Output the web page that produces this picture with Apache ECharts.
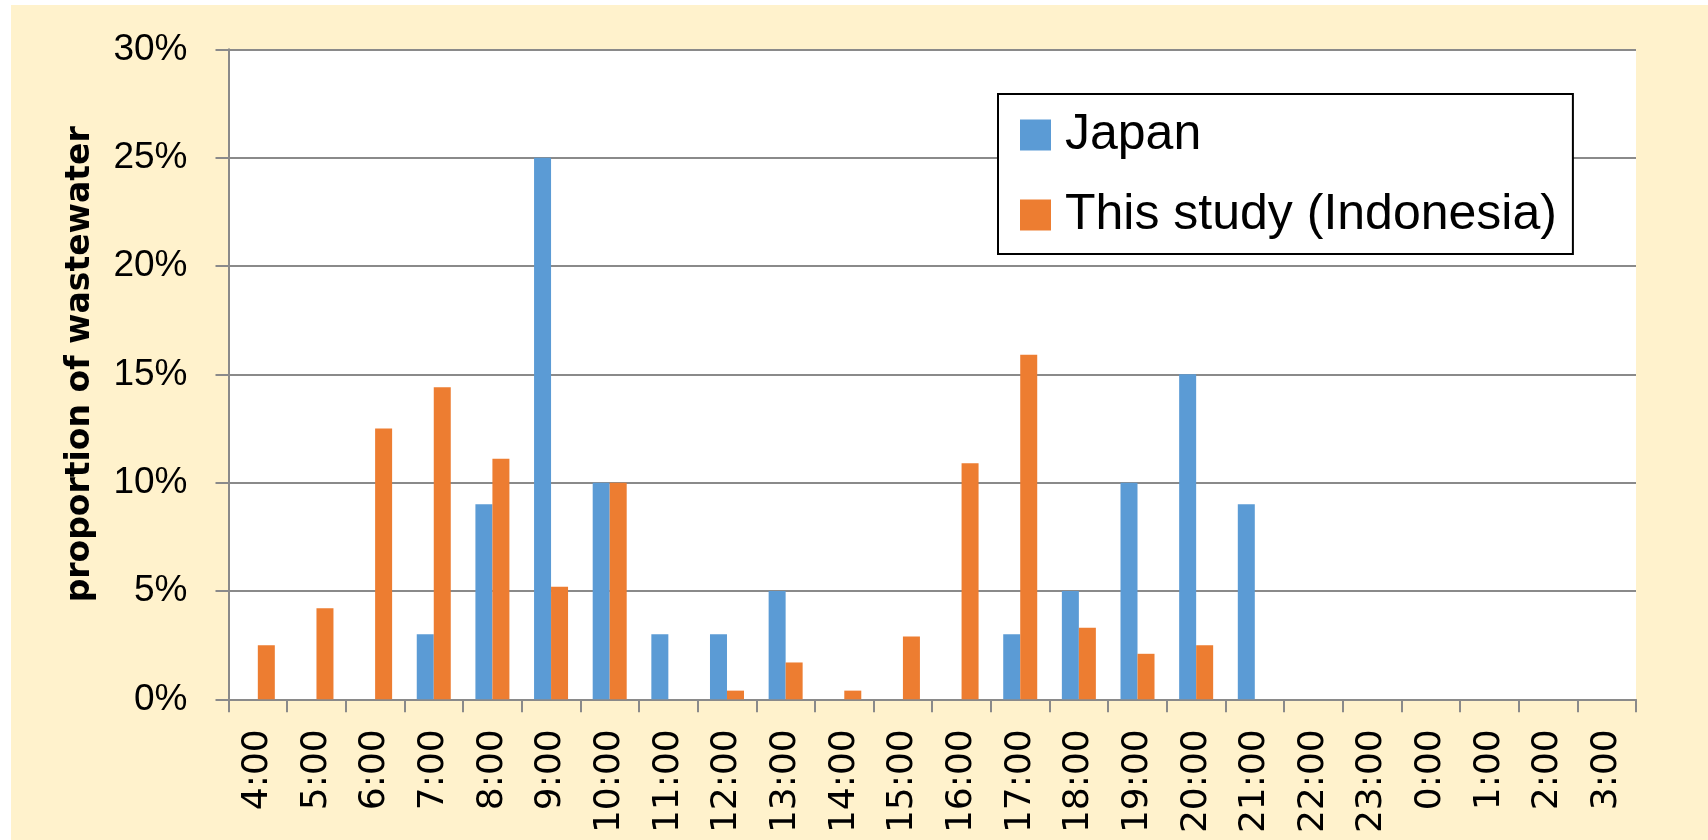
<!DOCTYPE html>
<html>
<head>
<meta charset="utf-8">
<script src="https://cdn.jsdelivr.net/npm/echarts@6/dist/echarts.min.js"></script>
<style>
  html, body { margin: 0; padding: 0; background: #ffffff; }
  #chart { width: 1708px; height: 840px; }
</style>
</head>
<body>
<div id="chart"></div>
<script>
const hours = ['4:00','5:00','6:00','7:00','8:00','9:00','10:00','11:00','12:00','13:00','14:00','15:00','16:00','17:00','18:00','19:00','20:00','21:00','22:00','23:00','0:00','1:00','2:00','3:00'];
const japan = [0,0,0,3,9,25,10,3,3,5,0,0,0,3,5,10,15,9,0,0,0,0,0,0];
const indonesia = [2.5,4.2,12.5,14.4,11.1,5.2,10,0,0.4,1.7,0.4,2.9,10.9,15.9,3.3,2.1,2.5,0,0,0,0,0,0,0];
const yTicks = [0,5,10,15,20,25,30];
const seriesNames = ['Japan','This study (Indonesia)'];

const chart = echarts.init(document.getElementById('chart'), null, {renderer: 'canvas'});
const gridColor = '#8a8a8a';
chart.setOption({
  animation: false,
  backgroundColor: '#ffffff',
  graphic: [{
    type: 'rect', z: -10, silent: true,
    shape: {x: 11, y: 5, width: 1708 - 11, height: 840 - 5},
    style: {fill: '#FFF2CC'}
  }],
  grid: {
    left: 228.5, right: 72, top: 49.3, bottom: 140.7,
    show: true, backgroundColor: '#ffffff', borderWidth: 0
  },
  legend: {
    orient: 'vertical',
    left: 998, top: 94,
    data: seriesNames,
    itemWidth: 31, itemHeight: 31,
    itemGap: 30,
    padding: [16, 16, 14, 22],
    backgroundColor: '#ffffff',
    borderColor: '#000000',
    borderWidth: 2,
    icon: 'rect',
    textStyle: {
      fontFamily: 'Liberation Sans', fontSize: 50, color: '#000',
      lineHeight: 50, padding: [0, 0, 0, 9]
    }
  },
  xAxis: {
    type: 'category',
    data: hours,
    boundaryGap: true,
    axisLine: {show: true, lineStyle: {color: gridColor, width: 2}},
    axisTick: {show: true, length: 13, alignWithLabel: false, lineStyle: {color: gridColor, width: 2}},
    axisLabel: {
      rotate: 90, margin: 30, interval: 0,
      fontFamily: 'DejaVu Sans', fontSize: 36, color: '#000'
    },
    splitLine: {show: false}
  },
  yAxis: {
    type: 'value',
    min: 0, max: 30, interval: 5,
    name: 'proportion of wastewater',
    nameLocation: 'middle',
    nameRotate: 90,
    nameGap: 132,
    nameTextStyle: {
      fontFamily: 'DejaVu Sans', fontWeight: 'bold', fontSize: 33, color: '#000',
      padding: [0, 0, 0, 20]
    },
    axisLine: {show: true, lineStyle: {color: gridColor, width: 2}},
    axisTick: {show: true, length: 13, inside: false, lineStyle: {color: gridColor, width: 2}},
    axisLabel: {
      margin: 41,
      fontFamily: 'Liberation Sans', fontSize: 37, color: '#000',
      formatter: function (v) { return yTicks.indexOf(v) >= 0 ? v + '%' : ''; }
    },
    splitLine: {show: true, lineStyle: {color: gridColor, width: 2}}
  },
  series: [
    {
      name: seriesNames[0], type: 'bar', data: japan,
      barWidth: 17, barGap: '0%',
      itemStyle: {color: '#5B9BD5'}
    },
    {
      name: seriesNames[1], type: 'bar', data: indonesia,
      barWidth: 17, barGap: '0%',
      itemStyle: {color: '#ED7D31'}
    }
  ]
});
</script>
</body>
</html>
